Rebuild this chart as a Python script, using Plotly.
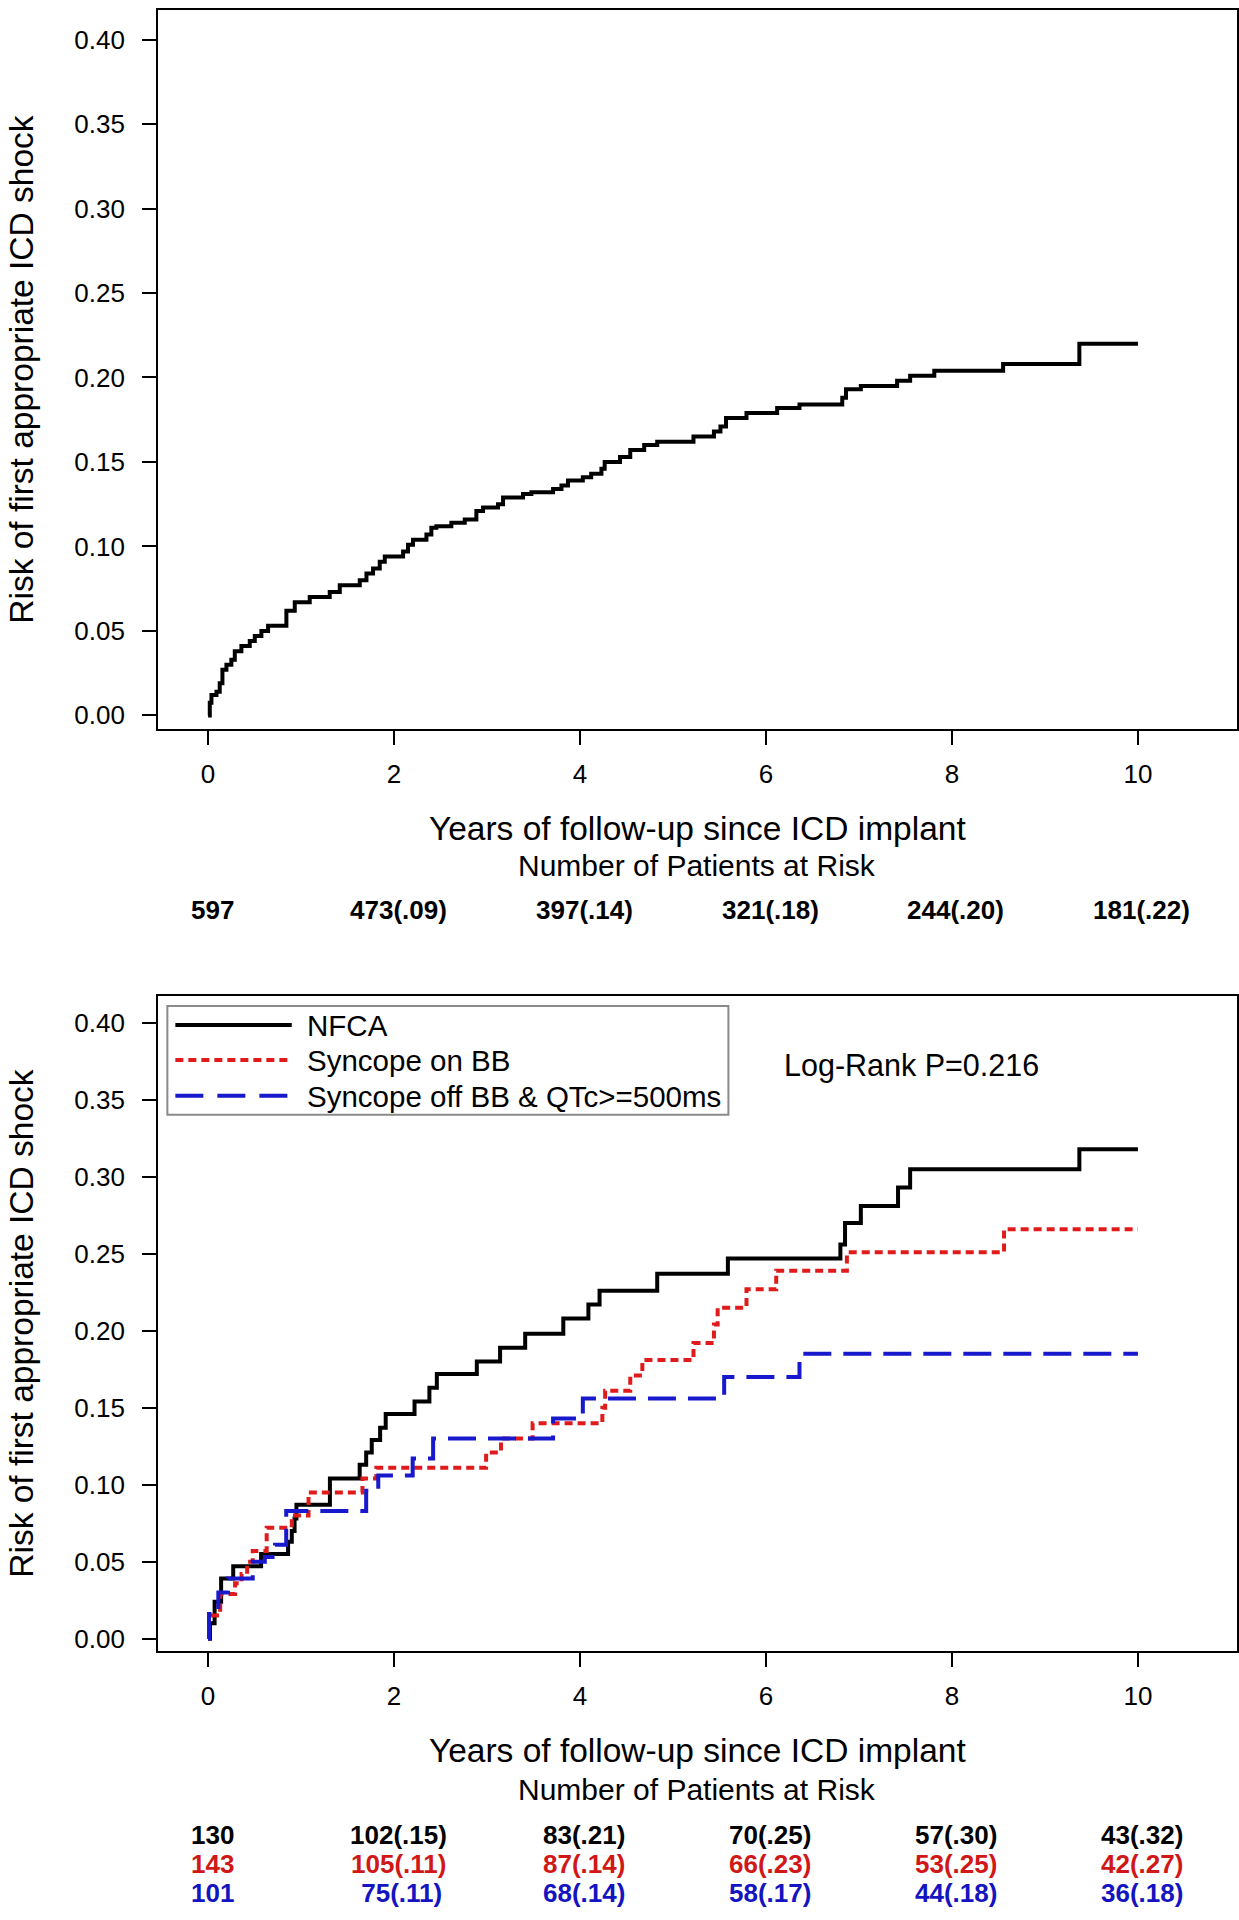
import plotly.graph_objects as go

# ---------------- data ----------------
years_ticks = [0, 2, 4, 6, 8, 10]

# Top panel: overall cumulative risk of first appropriate ICD shock
all_x = [0, 0.018, 0.036, 0.09, 0.125, 0.154, 0.197, 0.25, 0.287, 0.358, 0.448, 0.502,
         0.573, 0.645, 0.842, 0.932, 1.093, 1.308, 1.416, 1.631, 1.703, 1.774, 1.846, 1.90,
         2.097, 2.15, 2.204, 2.348, 2.401, 2.455, 2.616, 2.76, 2.885, 2.957, 3.118, 3.172,
         3.387, 3.477, 3.71, 3.80, 3.87, 4.03, 4.12, 4.23, 4.265, 4.43, 4.54, 4.69, 4.83,
         5.22, 5.44, 5.51, 5.57, 5.79, 6.12, 6.36, 6.82, 6.86, 7.02, 7.41, 7.55, 7.81, 8.55,
         9.37, 10.0]
all_y = [0, 0.0075, 0.012, 0.014, 0.019, 0.027, 0.030, 0.033, 0.038, 0.041, 0.044, 0.047,
         0.050, 0.053, 0.062, 0.067, 0.070, 0.073, 0.077, 0.080, 0.084, 0.087, 0.091, 0.094,
         0.097, 0.101, 0.104, 0.107, 0.111, 0.112, 0.114, 0.116, 0.121, 0.123, 0.125, 0.129,
         0.131, 0.132, 0.134, 0.136, 0.139, 0.141, 0.143, 0.146, 0.150, 0.153, 0.157, 0.160,
         0.162, 0.165, 0.168, 0.171, 0.176, 0.179, 0.182, 0.184, 0.188, 0.193, 0.195, 0.198,
         0.201, 0.204, 0.208, 0.220, 0.220]
risk_all = ["597", "473(.09)", "397(.14)", "321(.18)", "244(.20)", "181(.22)"]

# Bottom panel: three groups
series_names = ["NFCA", "Syncope on BB", "Syncope off BB & QTc>=500ms"]

nfca_x = [0, 0.02, 0.07, 0.14, 0.27, 0.57, 0.86, 0.90, 0.93, 0.95, 1.31, 1.63, 1.70, 1.76,
          1.85, 1.91, 2.22, 2.38, 2.46, 2.89, 3.14, 3.41, 3.82, 4.09, 4.21, 4.83, 5.59, 6.80,
          6.85, 7.02, 7.42, 7.55, 9.37, 10.0]
nfca_y = [0, 0.010, 0.024, 0.039, 0.047, 0.055, 0.063, 0.070, 0.078, 0.087, 0.104, 0.113,
          0.121, 0.129, 0.137, 0.146, 0.154, 0.163, 0.172, 0.180, 0.189, 0.198, 0.208, 0.217,
          0.226, 0.237, 0.247, 0.256, 0.270, 0.281, 0.293, 0.305, 0.318, 0.318]

onbb_x = [0, 0.01, 0.13, 0.29, 0.36, 0.42, 0.48, 0.63, 0.90, 1.08, 1.66, 1.81, 2.99, 3.15,
          3.49, 4.24, 4.27, 4.54, 4.67, 5.22, 5.44, 5.48, 5.79, 6.11, 6.87, 8.56, 10.0]
onbb_y = [0, 0.015, 0.029, 0.036, 0.042, 0.050, 0.057, 0.072, 0.080, 0.095, 0.104, 0.111,
          0.121, 0.130, 0.140, 0.150, 0.161, 0.171, 0.181, 0.192, 0.204, 0.215, 0.227, 0.239,
          0.251, 0.266, 0.266]

offbb_x = [0, 0.01, 0.11, 0.215, 0.48, 0.61, 0.72, 0.84, 1.70, 1.83, 2.20, 2.42, 3.71, 4.03,
           5.55, 6.36, 10.0]
offbb_y = [0, 0.016, 0.030, 0.039, 0.050, 0.053, 0.061, 0.083, 0.096, 0.106, 0.117, 0.130,
           0.143, 0.156, 0.170, 0.185, 0.185]

risk_nfca = ["130", "102(.15)", "83(.21)", "70(.25)", "57(.30)", "43(.32)"]
risk_onbb = ["143", "105(.11)", "87(.14)", "66(.23)", "53(.25)", "42(.27)"]
risk_offbb = ["101", "\u00a075(.11)", "68(.14)", "58(.17)", "44(.18)", "36(.18)"]

logrank_text = "Log-Rank P=0.216"
x_title = "Years of follow-up since ICD implant"
y_title = "Risk of first appropriate ICD shock"
risk_title = "Number of Patients at Risk"

# ---------------- styling ----------------
W, H = 1239, 1920
FONT = "Liberation Sans, Arial, sans-serif"
BLACK = "#000000"
RED = "#e01b1b"
BLUE = "#1818cc"
RED_TXT = "#d01818"
BLUE_TXT = "#1414c0"

def py(px):
    return 1 - px / H

def pxx(px):
    return px / W

x_dom = [pxx(158.3), pxx(1237.5)]
top_dom = [py(730), py(10)]
bot_dom = [py(1653), py(997)]
x_rng = [-0.537, 11.06]
y_rng = [-0.0082, 0.4175]

fig = go.Figure()

fig.add_trace(go.Scatter(x=all_x, y=all_y, mode="lines", line=dict(shape="hv", color=BLACK, width=4),
                         xaxis="x", yaxis="y", showlegend=False, name="All"))
fig.add_trace(go.Scatter(x=nfca_x, y=nfca_y, mode="lines", line=dict(shape="hv", color=BLACK, width=4),
                         xaxis="x2", yaxis="y2", showlegend=False, name=series_names[0]))
fig.add_trace(go.Scatter(x=onbb_x, y=onbb_y, mode="lines",
                         line=dict(shape="hv", color=RED, width=4, dash="8px,5px"),
                         xaxis="x2", yaxis="y2", showlegend=False, name=series_names[1]))
fig.add_trace(go.Scatter(x=offbb_x, y=offbb_y, mode="lines",
                         line=dict(shape="hv", color=BLUE, width=4, dash="28px,12px"),
                         xaxis="x2", yaxis="y2", showlegend=False, name=series_names[2]))

tickfont = dict(family=FONT, size=26, color=BLACK)
titlefont = dict(family=FONT, size=33.5, color=BLACK)

def xaxis_cfg(anchor):
    return dict(domain=x_dom, range=x_rng, anchor=anchor, tickvals=years_ticks,
                ticks="outside", ticklen=14, tickwidth=2, tickcolor=BLACK,
                showline=True, linewidth=2, linecolor=BLACK, mirror=True,
                showgrid=False, zeroline=False, tickfont=tickfont, ticklabelstandoff=7,
                title=dict(text=x_title, font=titlefont, standoff=28))

def yaxis_cfg(dom, anchor):
    return dict(domain=dom, range=y_rng, anchor=anchor, tick0=0, dtick=0.05, tickformat=".2f",
                ticks="outside", ticklen=14, tickwidth=2, tickcolor=BLACK,
                showline=True, linewidth=2, linecolor=BLACK, mirror=True,
                showgrid=False, zeroline=False, tickfont=tickfont, ticklabelstandoff=12,
                title=dict(text=y_title, font=titlefont, standoff=31))

annotations = []

def add_text(text, x, y, xref="paper", size=30, color=BLACK, bold=False, xanchor="center", xshift=0):
    annotations.append(dict(text=text, x=x, y=y, xref=xref, yref="paper", showarrow=False,
                            xanchor=xanchor, yanchor="middle", xshift=xshift,
                            font=dict(family=FONT, size=size, color=color,
                                      weight="bold" if bold else "normal")))

# risk table, top
add_text(risk_title, pxx(698), py(866))
for t, lab in zip(years_ticks, risk_all):
    add_text(lab, t, py(911), xref="x", size=26, bold=True, xshift=4)

# risk table, bottom
add_text(risk_title, pxx(698), py(1791.5))
for row, col, ypx in [(risk_nfca, BLACK, 1836.5), (risk_onbb, RED_TXT, 1865.5), (risk_offbb, BLUE_TXT, 1894.5)]:
    for t, lab in zip(years_ticks, row):
        add_text(lab, t, py(ypx), xref="x2", size=26, color=col, bold=True, xshift=4)

# log-rank text
add_text(logrank_text, pxx(783), py(1067), xanchor="left", size=30.5)

# custom legend (box, sample lines, labels)
shapes = [dict(type="rect", xref="paper", yref="paper", x0=pxx(167.5), x1=pxx(729),
               y0=py(1116), y1=py(1007), line=dict(color="#8a8a8a", width=2), fillcolor="rgba(0,0,0,0)")]
leg_rows = [(series_names[0], BLACK, "solid", 1026), (series_names[1], RED, "8px,5px", 1061),
            (series_names[2], BLUE, "28px,14px", 1097)]
for name, col, dash, ypx in leg_rows:
    shapes.append(dict(type="line", xref="paper", yref="paper", x0=pxx(175.5), x1=pxx(292),
                       y0=py(ypx), y1=py(ypx), line=dict(color=col, width=4, dash=dash)))
    add_text(name, pxx(305), py(ypx + 1), xanchor="left", size=29.5)

fig.update_layout(
    width=W, height=H, margin=dict(l=0, r=0, t=0, b=0),
    paper_bgcolor="white", plot_bgcolor="white",
    xaxis=xaxis_cfg("y"), yaxis=yaxis_cfg(top_dom, "x"),
    xaxis2=xaxis_cfg("y2"), yaxis2=yaxis_cfg(bot_dom, "x2"),
    annotations=annotations, shapes=shapes, showlegend=False,
    font=dict(family=FONT, color=BLACK),
)

fig.write_html("out.html", config={"displayModeBar": False},
               post_script="document.body.style.margin='0';document.body.style.overflow='hidden';")
